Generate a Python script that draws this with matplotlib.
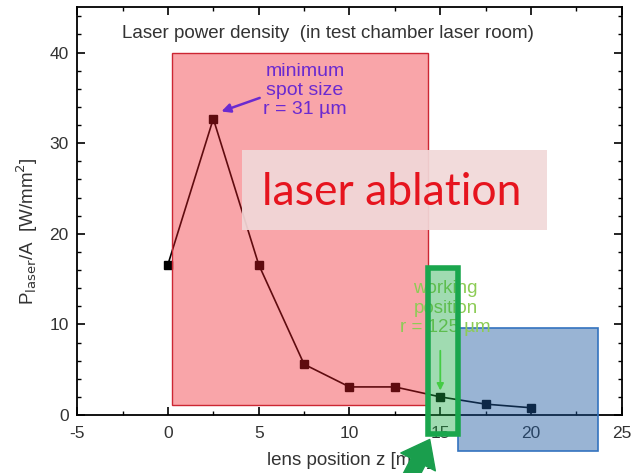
import matplotlib
matplotlib.use("Agg")
import matplotlib.pyplot as plt
from matplotlib.patches import Rectangle, FancyArrowPatch
from matplotlib.ticker import MultipleLocator

plt.rcParams['font.family'] = ['Liberation Sans', 'DejaVu Sans']
plt.rcParams['axes.unicode_minus'] = False

lens_pos = [0, 2.5, 5, 7.5, 10, 12.5, 15, 17.5, 20]
power_density = [16.6, 32.7, 16.6, 5.6, 3.1, 3.1, 2.0, 1.2, 0.8]

fig = plt.figure(figsize=(6.32, 4.73), dpi=100)
ax = fig.add_axes([0.122, 0.1226, 0.862, 0.862])

ax.plot(lens_pos, power_density, color='black', lw=1.2, marker='s', ms=6, zorder=2)

ax.set_xlim(-5, 25)
ax.set_ylim(0, 45)
ax.xaxis.set_major_locator(MultipleLocator(5))
ax.xaxis.set_minor_locator(MultipleLocator(2.5))
ax.yaxis.set_major_locator(MultipleLocator(10))
ax.yaxis.set_minor_locator(MultipleLocator(2))
ax.tick_params(which='both', direction='in', top=True, right=True, labelsize=12.5, labelcolor='#333333')
ax.tick_params(axis='x', which='major', pad=8)
ax.tick_params(axis='y', which='major', pad=6)
ax.tick_params(which='major', length=6, width=1.2)
ax.tick_params(which='minor', length=3, width=1.0)
for s in ax.spines.values():
    s.set_linewidth(1.3)

ax.set_xlabel('lens position z [mm]', fontsize=13.5, color='#333333')
ax.xaxis.set_label_coords(0.5, -0.09)
ax.xaxis.label.set_va('top')
ax.set_ylabel(r'P$_{\mathrm{laser}}$/A  [W/mm$^2$]', fontsize=13.5, color='#333333')
ax.yaxis.set_label_coords(-0.068, 0.45)

# Regions
ax.add_patch(Rectangle((0.2, 1.1), 14.1, 38.9, facecolor=(240/255, 30/255, 40/255, 0.4),
                       edgecolor=(0.8, 0.15, 0.2), lw=1.0, zorder=3))
ax.add_patch(Rectangle((16.0, -4.0), 7.7, 13.6, facecolor=(30/255, 90/255, 160/255, 0.45),
                       edgecolor=(0.2, 0.45, 0.75), lw=1.2, zorder=3, clip_on=False))
ax.add_patch(Rectangle((14.3, -2.1), 1.7, 18.3, facecolor=(30/255, 170/255, 70/255, 0.42),
                       edgecolor=(0.1, 0.65, 0.3), lw=4, zorder=5, clip_on=False))

# laser ablation box
ax.add_patch(Rectangle((4.1, 20.4), 16.8, 8.8, facecolor='#f1d8d8', edgecolor='none',
                       alpha=0.92, zorder=4))
ax.text(12.3, 24.6, 'laser ablation', fontsize=32, color='#e6141e', family=['Lato', 'DejaVu Sans'],
        ha='center', va='center', zorder=6)

ax.text(8.8, 42.1, 'Laser power density  (in test chamber laser room)', fontsize=13.5,
        color='#333333', ha='center', va='center', zorder=6)

ax.text(7.55, 35.8, 'minimum\nspot size\nr = 31 µm', fontsize=14, color='#6a2ad0',
        ha='center', va='center', linespacing=1.15, zorder=6)
ax.annotate('', xy=(2.8, 33.4), xytext=(5.2, 35.1),
            arrowprops=dict(arrowstyle='-|>', color='#6a2ad0', lw=1.8, mutation_scale=13), zorder=6)

ax.text(15.3, 11.8, 'working\nposition\nr = 125 µm', fontsize=13.5, color='#8ccc55',
        ha='center', va='center', linespacing=1.2, zorder=4)
ax.annotate('', xy=(15.0, 2.4), xytext=(15.0, 7.4),
            arrowprops=dict(arrowstyle='-|>', color='#44cc44', lw=1.3, mutation_scale=10), zorder=6)

# big green arrow at bottom
arr = FancyArrowPatch((405/632, -0.03), (431/632, 1 - 437/473), transform=fig.transFigure,
                      arrowstyle='simple,head_width=2.0,head_length=1.3,tail_width=0.8',
                      mutation_scale=14, color=(0.1, 0.62, 0.3), zorder=10)
fig.patches.append(arr)

fig.savefig('out.png', dpi=100)
